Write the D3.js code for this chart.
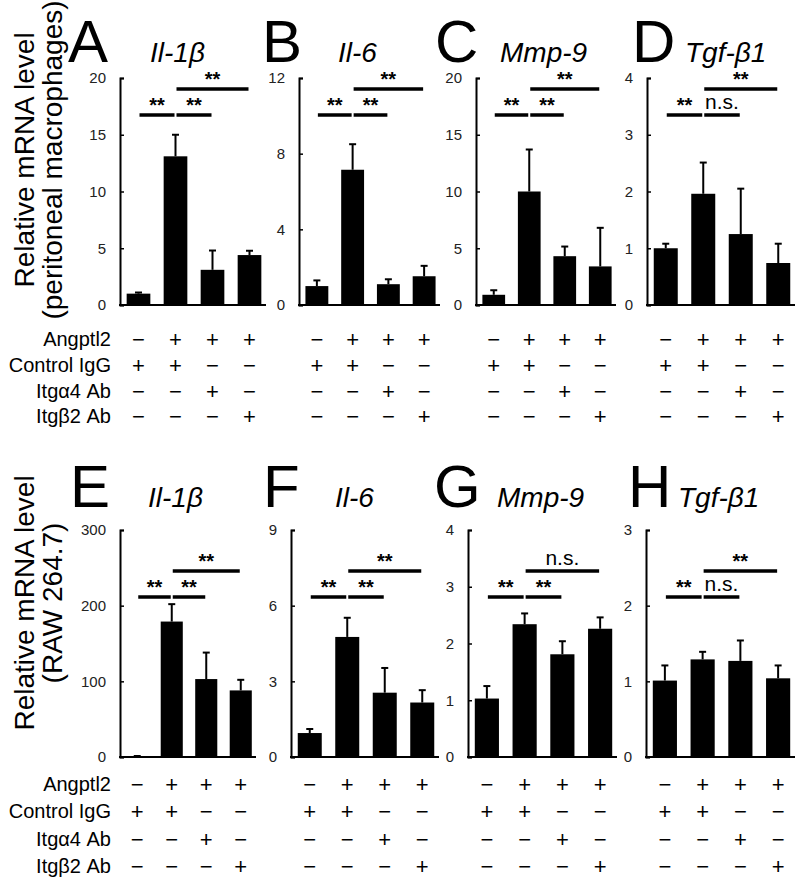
<!DOCTYPE html>
<html><head><meta charset="utf-8">
<script src="https://cdn.jsdelivr.net/npm/d3@7"></script>
<style>body{margin:0;background:#fff}svg{display:block}</style>
</head><body>
<svg id="c" width="800" height="884"></svg>
<script>
// ---------- data ----------
const genes = ["Il-1β", "Il-6", "Mmp-9", "Tgf-β1"];
const panelLetters = ["A", "B", "C", "D", "E", "F", "G", "H"];
const conditions = ["Angptl2", "Control IgG", "Itgα4 Ab", "Itgβ2 Ab"];
const conditionSigns = [
  ["−", "+", "+", "+"],
  ["+", "+", "−", "−"],
  ["−", "−", "+", "−"],
  ["−", "−", "−", "+"]
];
// peritoneal macrophages (A-D)
const peritonealMeans = [
  [1.0, 13.1, 3.1, 4.4],
  [1.0, 7.15, 1.1, 1.52],
  [0.9, 10.0, 4.3, 3.4],
  [1.0, 1.96, 1.25, 0.74]
];
const peritonealErrors = [
  [0.1, 1.9, 1.7, 0.38],
  [0.3, 1.35, 0.26, 0.55],
  [0.4, 3.7, 0.85, 3.4],
  [0.08, 0.55, 0.8, 0.34]
];
const peritonealMax = [20, 12, 20, 4];
const peritonealTicks = [[0, 5, 10, 15, 20], [0, 4, 8, 12], [0, 5, 10, 15, 20], [0, 1, 2, 3, 4]];
const peritonealSig = [["**", "**", "**"], ["**", "**", "**"], ["**", "**", "**"], ["**", "n.s.", "**"]];
// RAW 264.7 (E-H)
const rawMeans = [
  [1, 179, 103, 88],
  [0.95, 4.76, 2.55, 2.16],
  [1.03, 2.34, 1.81, 2.26],
  [1.01, 1.29, 1.27, 1.04]
];
const rawErrors = [
  [0.3, 23, 35, 14],
  [0.16, 0.76, 0.98, 0.49],
  [0.22, 0.19, 0.23, 0.2],
  [0.2, 0.1, 0.27, 0.17]
];
const rawMax = [300, 9, 4, 3];
const rawTicks = [[0, 100, 200, 300], [0, 3, 6, 9], [0, 1, 2, 3, 4], [0, 1, 2, 3]];
const rawSig = [["**", "**", "**"], ["**", "**", "**"], ["**", "**", "n.s."], ["**", "n.s.", "**"]];
const bracketPairs = [[0, 1], [1, 2], [1, 3]];
const yTitleLines = [["Relative mRNA level", "(peritoneal macrophages)"], ["Relative mRNA level", "(RAW 264.7)"]];

// ---------- layout ----------
const FONT = "'Liberation Sans', Arial, Helvetica, sans-serif";
const rows = [
  { yTop: 78, yZero: 305, titleY: 62, bracketY: [115, 115, 89], tableY: [339, 365, 391, 416], yTitleC: 160,
    panels: [{x0:120,x1:268,lx:68,tx:150},{x0:299,x1:442,lx:262,tx:338},{x0:476,x1:618,lx:435,tx:500},{x0:647,x1:797,lx:632,tx:685}],
    means: peritonealMeans, errs: peritonealErrors, max: peritonealMax, ticks: peritonealTicks, sig: peritonealSig },
  { yTop: 530, yZero: 757, titleY: 507, bracketY: [597, 597, 571], tableY: [784, 811, 839, 866], yTitleC: 603,
    panels: [{x0:120,x1:258,lx:70,tx:148},{x0:291,x1:441,lx:263,tx:335},{x0:468,x1:619,lx:434,tx:497},{x0:646,x1:797,lx:628,tx:678}],
    means: rawMeans, errs: rawErrors, max: rawMax, ticks: rawTicks, sig: rawSig }
];

const svg = d3.select("#c");

rows.forEach((row, ri) => {
  // y-axis title
  const yt = svg.append("g").attr("font-family", FONT).attr("font-size", 28).attr("fill", "#000");
  yt.append("text").attr("transform", `translate(34,${row.yTitleC}) rotate(-90)`).attr("text-anchor", "middle").text(yTitleLines[ri][0]);
  yt.append("text").attr("transform", `translate(62,${row.yTitleC}) rotate(-90)`).attr("text-anchor", "middle").text(yTitleLines[ri][1]);

  // condition table labels
  const tbl = svg.append("g").attr("font-family", FONT).attr("fill", "#000");
  conditions.forEach((c, k) => {
    tbl.append("text").attr("x", 111).attr("y", row.tableY[k]).attr("dy", "0.35em")
      .attr("text-anchor", "end").attr("font-size", 20).text(c);
  });

  row.panels.forEach((p, pi) => {
    const idx = ri * 4 + pi;
    const x = d3.scaleBand().domain([0, 1, 2, 3]).range([p.x0, p.x1]).paddingInner(0.36).paddingOuter(0.18);
    const y = d3.scaleLinear().domain([0, row.max[pi]]).range([row.yZero, row.yTop]);
    const g = svg.append("g");

    // letter + gene title
    g.append("text").attr("x", p.lx).attr("y", row.titleY).attr("font-family", FONT).attr("font-size", 60).text(panelLetters[idx]);
    g.append("text").attr("x", p.tx).attr("y", row.titleY).attr("font-family", FONT).attr("font-size", 28)
      .attr("font-style", "italic").text(genes[pi]);

    // bars
    const means = row.means[pi], errs = row.errs[pi];
    g.selectAll("rect.bar").data(means).join("rect").attr("class", "bar")
      .attr("x", (d, i) => x(i)).attr("width", x.bandwidth())
      .attr("y", d => y(d)).attr("height", d => y(0) - y(d)).attr("fill", "#000");
    // error bars
    const eb = g.append("g").attr("stroke", "#000").attr("stroke-width", 2);
    means.forEach((m, i) => {
      const cx = x(i) + x.bandwidth() / 2;
      eb.append("line").attr("x1", cx).attr("x2", cx).attr("y1", y(m)).attr("y2", y(m + errs[i]));
      eb.append("line").attr("x1", cx - 3.5).attr("x2", cx + 3.5).attr("y1", y(m + errs[i])).attr("y2", y(m + errs[i]));
    });

    // axes
    const ax = g.append("g").attr("transform", `translate(${p.x0},0)`)
      .call(d3.axisLeft(y).tickValues(row.ticks[pi]).tickFormat(d3.format("d")).tickSizeInner(-4).tickSizeOuter(-4).tickPadding(14));
    ax.select(".domain").attr("stroke-width", 2);
    ax.selectAll(".tick line").attr("stroke-width", 1.5);
    ax.selectAll(".tick text").attr("font-family", FONT).attr("font-size", 15).attr("fill", "#222");
    g.append("line").attr("x1", p.x0 - 1).attr("x2", p.x1 - 2).attr("y1", row.yZero).attr("y2", row.yZero)
      .attr("stroke", "#000").attr("stroke-width", 2);

    // significance brackets
    bracketPairs.forEach((pair, bi) => {
      const xa = x(pair[0]) + x.bandwidth() / 2 + 1;
      const xb = x(pair[1]) + x.bandwidth() / 2 - 1;
      const by = row.bracketY[bi];
      g.append("line").attr("x1", xa).attr("x2", xb).attr("y1", by).attr("y2", by)
        .attr("stroke", "#000").attr("stroke-width", 3.5);
      const lab = row.sig[pi][bi];
      const t = g.append("text").attr("x", (xa + xb) / 2).attr("text-anchor", "middle").attr("font-family", FONT).text(lab);
      if (lab === "**") t.attr("y", by - 3).attr("font-size", 20).attr("font-weight", "bold");
      else t.attr("y", by - 6).attr("font-size", 21);
    });

    // condition signs
    conditionSigns.forEach((signs, k) => {
      signs.forEach((s, i) => {
        tbl.append("text").attr("x", x(i) + x.bandwidth() / 2).attr("y", row.tableY[k]).attr("dy", "0.35em")
          .attr("text-anchor", "middle").attr("font-size", 22).text(s);
      });
    });
  });
});
</script>
</body></html>
